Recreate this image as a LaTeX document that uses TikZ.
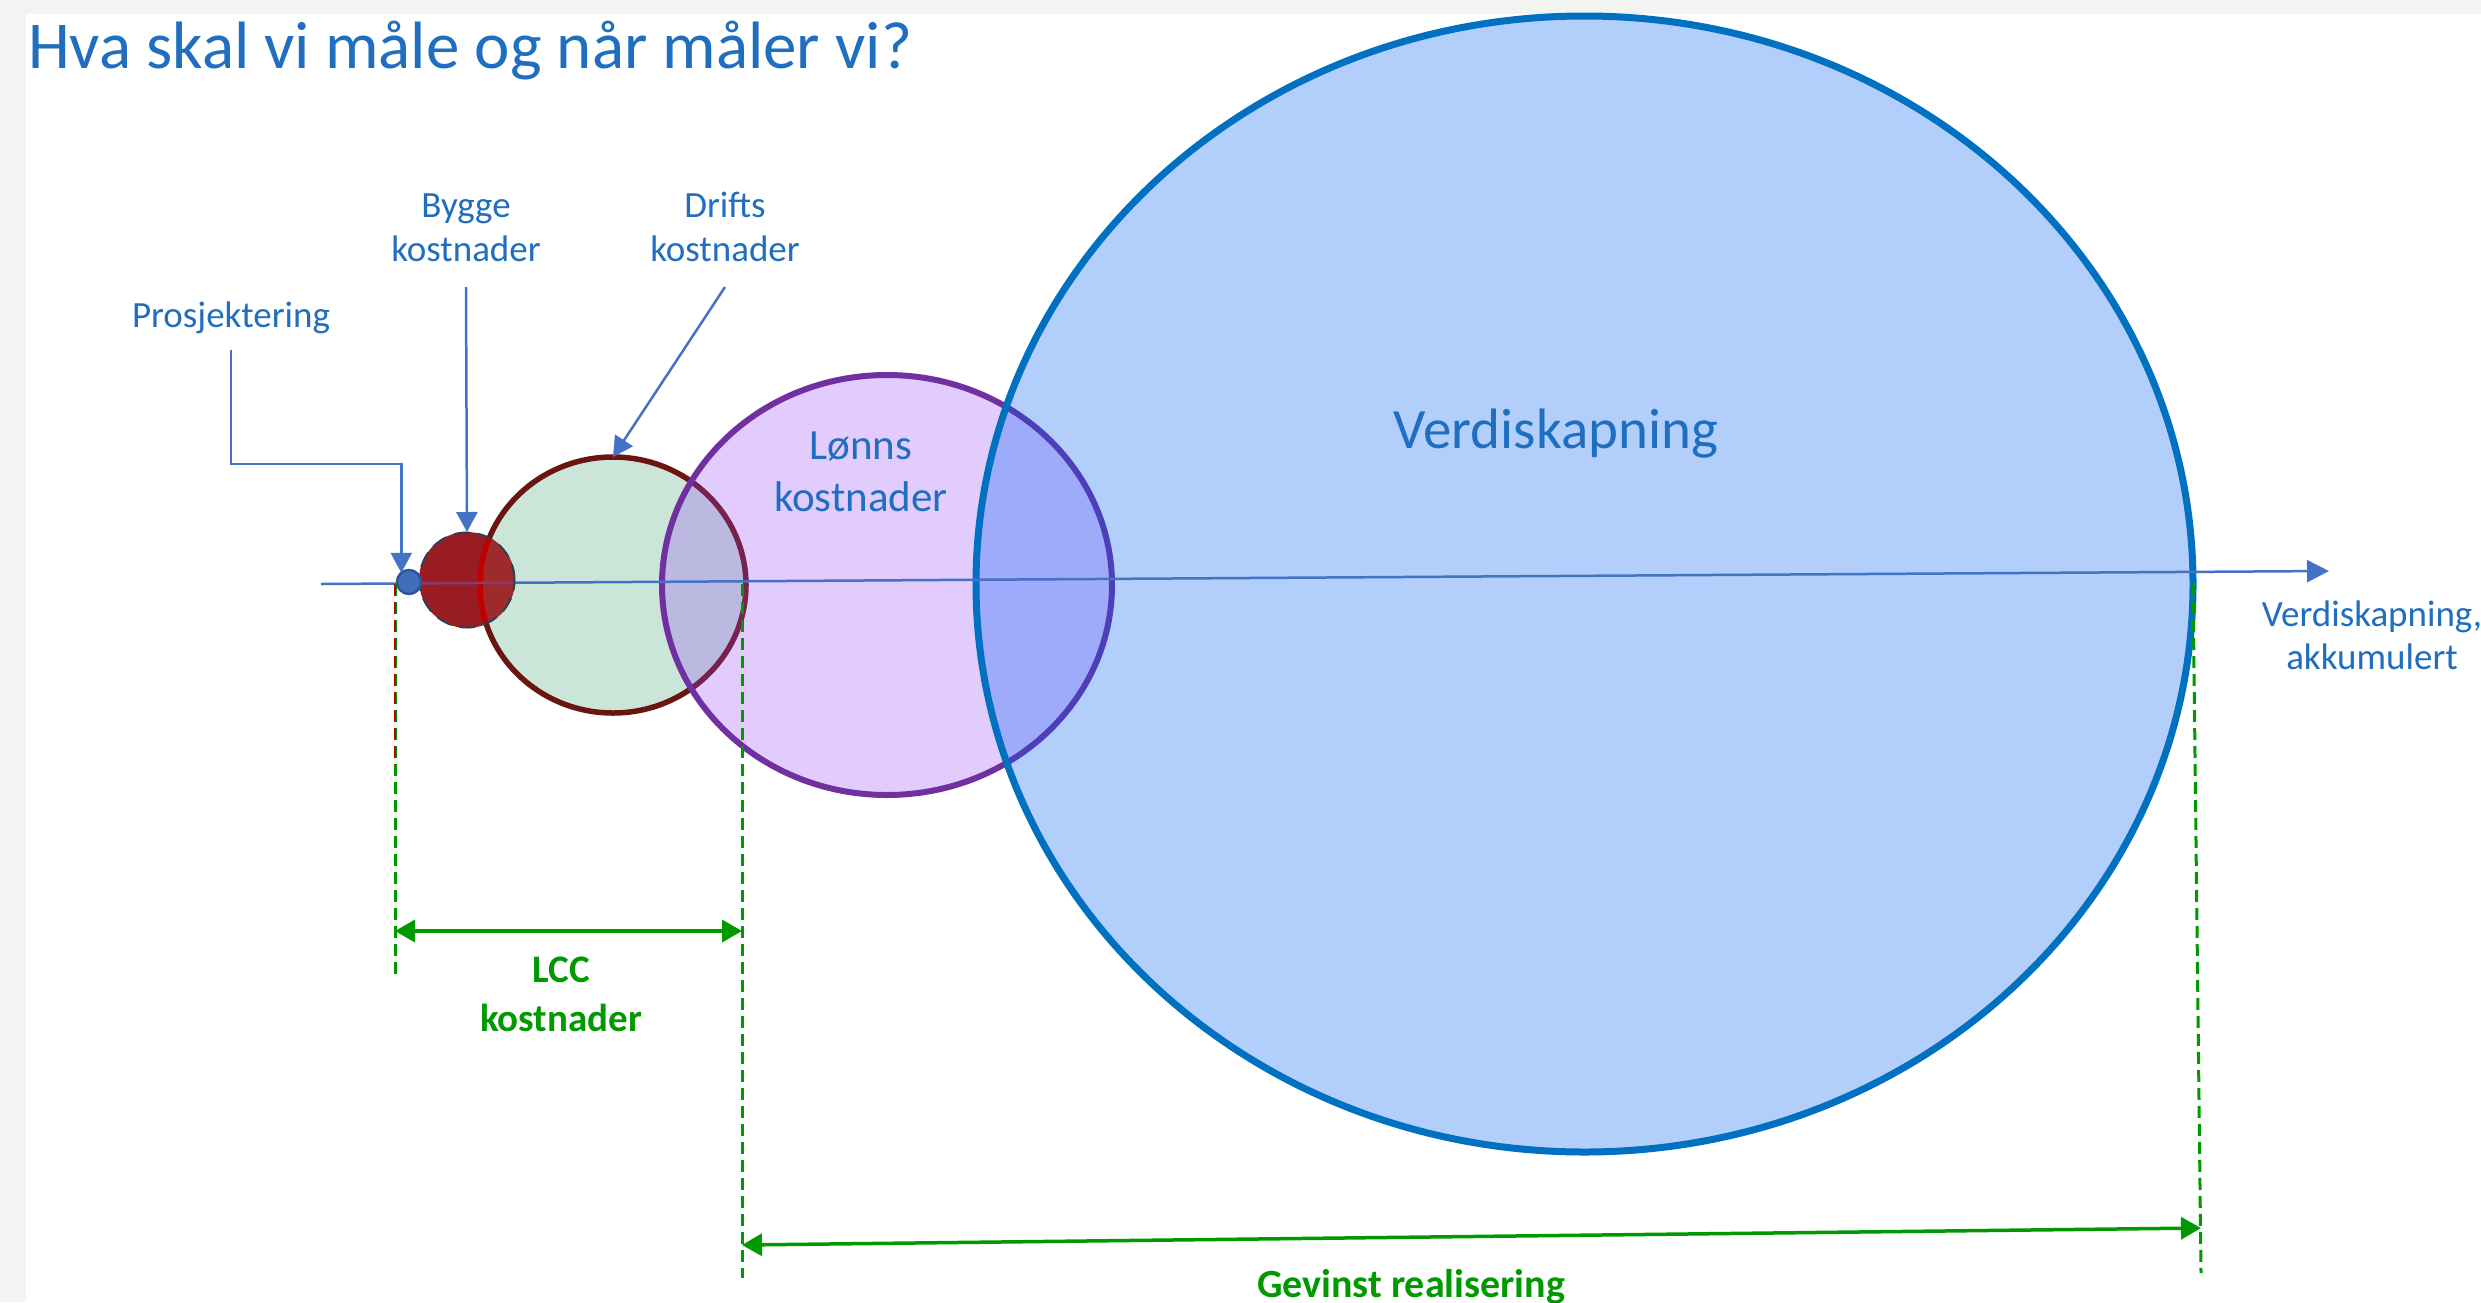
\documentclass[tikz,border=0pt]{standalone}
\usepackage{fontspec}
\setmainfont{Carlito}
\usetikzlibrary{arrows.meta,calc,shapes.geometric}
\definecolor{bggray}{HTML}{F2F4F2}
\definecolor{txtblue}{HTML}{1F6EBF}
\definecolor{axisblue}{HTML}{4472C4}
\definecolor{gtxt}{HTML}{009900}
\definecolor{grnfill}{HTML}{CCE5D9}
\definecolor{grnline}{HTML}{6B1510}
\definecolor{purpf}{RGB}{148,67,248}
\definecolor{purpline}{HTML}{7030A0}
\definecolor{bluef}{RGB}{0,98,245}
\definecolor{blueline}{HTML}{0070C0}
\definecolor{redfill}{HTML}{981C22}
\definecolor{redlight}{HTML}{9E2B2C}
\definecolor{redarc}{HTML}{C00000}
\definecolor{redoutline}{HTML}{2B3F55}
\definecolor{mauve}{HTML}{8A3A70}
\definecolor{dotfill}{HTML}{3F6FB8}
\definecolor{dotline}{HTML}{2F5597}
\begin{document}
\begin{tikzpicture}[x=1pt,y=-1pt,
  conn/.style={draw=axisblue,line width=2.5pt,-{Triangle[length=20pt,width=21pt]}},
  gdash/.style={draw=gtxt,line width=3pt,dash pattern=on 12pt off 6pt},
  rdash/.style={draw=redarc,line width=2pt,dash pattern=on 12pt off 6pt},
  garrow/.style={draw=gtxt,line width=3.5pt},
  lbl/.style={text=txtblue,inner sep=0pt,outer sep=0pt,align=center},
  glbl/.style={text=gtxt,inner sep=0pt,outer sep=0pt,align=center,font=\bfseries\fontsize{39}{49}\selectfont}]
\useasboundingbox (0,0) rectangle (2481,1302);
\fill[bggray] (0,0) rectangle (2481,1302);
\fill[white] (26,14) rectangle (2481,1302);

% circles
\node[ellipse,minimum width=266pt,minimum height=256pt,inner sep=0pt,outer sep=0pt,
      fill=grnfill,draw=grnline,line width=5.5pt] (grn) at (613,585) {};
\node[ellipse,minimum width=450pt,minimum height=420pt,inner sep=0pt,outer sep=0pt,
      fill=purpf,fill opacity=0.27,draw=purpline,line width=6pt] (lonn) at (887,585) {};
\node[ellipse,minimum width=1217pt,minimum height=1136pt,inner sep=0pt,outer sep=0pt,
      fill=bluef,fill opacity=0.3,draw=blueline,line width=7pt] (verdi) at (1584.5,584) {};

% axis
\coordinate (axs) at (321,584);
\coordinate (axe) at (2329,571);
\draw[axisblue,line width=2.5pt,-{Triangle[length=22pt,width=22pt]}] (axs) -- (axe);

% red circle
\node[circle,minimum size=96pt,inner sep=0pt,outer sep=0pt,fill=redfill] (red) at (467,580) {};
\begin{scope}
  \clip (red.center) circle[radius=48pt];
  \fill[redlight] (grn.center) ellipse[x radius=133pt,y radius=128pt];
  \draw[redarc,line width=5.5pt] (grn.center) ellipse[x radius=133pt,y radius=128pt];
  \draw[mauve,line width=2.5pt] (axs) -- (axe);
\end{scope}
\draw[redoutline,line width=2pt,dash pattern=on 16pt off 8pt] (red.center) circle[radius=47.5pt];

% small dot
\node[circle,minimum size=24pt,inner sep=0pt,outer sep=0pt,fill=dotfill,draw=dotline,line width=2.5pt] (dot) at (409,582) {};

% dashed verticals
\coordinate (l1t) at (395,584);
\coordinate (l1m) at (395,765);
\coordinate (l1b) at (395,977);
\coordinate (l2t) at (742,584);
\coordinate (l2b) at (742,1278);
\coordinate (l3t) at (2193,584);
\coordinate (l3b) at (2201,1273);
\draw[gdash] (l1t) -- (l1b);
\draw[rdash] (l1t) -- (l1m);
\draw[gdash] (l2t) -- (l2b);
\draw[gdash] (l3t) -- (l3b);

% green dimension arrows
\coordinate (lccL) at (395,931);
\coordinate (lccR) at (742,931);
\draw[garrow,{Triangle[length=20pt,width=22pt]}-{Triangle[length=20pt,width=22pt]}] (lccL) -- (lccR);
\coordinate (gevL) at (742,1245);
\coordinate (gevR) at (2201,1228);
\draw[garrow,{Triangle[length=20pt,width=22pt]}-{Triangle[length=20pt,width=22pt]}] (gevL) -- (gevR);

% title
\node[text=txtblue,inner sep=0pt,anchor=base west,font=\fontsize{67}{80}\selectfont] (title) at (28,68) {Hva skal vi måle og når måler vi?};

% labels
\node[lbl,anchor=base,font=\fontsize{37}{44}\selectfont] (prosj) at (231,327) {Prosjektering};
\node[lbl,anchor=south,font=\fontsize{37}{44}\selectfont] (bygge) at (466,262) {Bygge\\kostnader};
\node[lbl,anchor=south,font=\fontsize{37}{44}\selectfont] (drifts) at (725,262) {Drifts\\kostnader};
\node[lbl,anchor=south,font=\fontsize{43}{52}\selectfont] (lonnt) at (861,512) {Lønns\\kostnader};
\node[lbl,anchor=base,font=\fontsize{57}{68}\selectfont] (verdit) at (1556,448) {Verdiskapning};
\node[lbl,anchor=south,font=\fontsize{37}{43}\selectfont] (akk) at (2372,670) {Verdiskapning,\\akkumulert};
\node[glbl,anchor=south] (lcc) at (561,1032) {LCC\\kostnader};
\node[glbl,anchor=base,font=\bfseries\fontsize{40}{48}\selectfont] (gev) at (1411,1297) {Gevinst realisering};

% connectors
\draw[conn] ([yshift=-23pt]prosj.base) |- ($(dot.130)+(0,-109)$) -- (dot.130);
\draw[conn] ([yshift=-25pt]bygge.south) -- (red.north);
\draw[conn] ([yshift=-25pt]drifts.south) -- (grn.north);
\end{tikzpicture}
\end{document}
